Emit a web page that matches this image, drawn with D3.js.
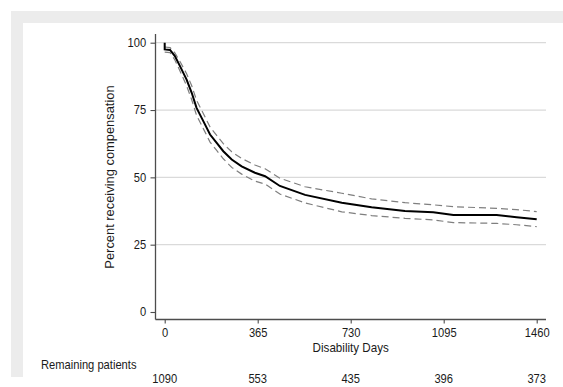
<!DOCTYPE html>
<html>
<head>
<meta charset="utf-8">
<script src="https://cdn.jsdelivr.net/npm/d3@7"></script>
<style>
    body { margin: 0; background: #fff; }
    svg text { font-family: "Liberation Sans", Arial, sans-serif; fill: #1a1a1a; }
</style>
</head>
<body>
<div id="graphic"></div>
<script>
// Kaplan-Meier curve
var days  = [0, 0, 21, 40, 60, 86, 106, 125, 152, 178, 204, 230, 263, 302, 354, 394, 452, 551, 695, 812, 943, 1054, 1133, 1303, 1381, 1460];
var surv  = [100, 97.5, 97.3, 95, 91.3, 86.3, 81.4, 75.8, 70.8, 65.9, 62.8, 59.7, 56.6, 54.1, 51.7, 50.4, 46.8, 43.5, 40.6, 38.9, 37.5, 37.0, 36.0, 36.0, 35.2, 34.4];
var upper = [98.4, 98.4, 98.2, 96.2, 93.0, 88.5, 84.0, 78.6, 73.6, 68.7, 65.6, 62.5, 59.5, 57.0, 54.6, 53.2, 49.7, 46.5, 44.1, 42.0, 40.6, 39.8, 39.1, 38.5, 38.0, 37.3];
var lower = [96.5, 96.5, 96.3, 93.6, 89.5, 84.0, 78.8, 73.0, 68.0, 63.1, 60.0, 56.9, 53.7, 51.2, 48.6, 47.5, 43.8, 40.5, 37.2, 35.8, 34.8, 34.2, 33.2, 32.9, 32.4, 31.7];

var xTicks = [0, 365, 730, 1095, 1460];
var yTicks = [0, 25, 50, 75, 100];
var remaining = [1090, 553, 435, 396, 373];

var W = 563, H = 387;
var squish = 'scale(0.93,1)'; // text in the picture is a bit narrow
var svg = d3.select('#graphic')
    .append('svg')
    .attr('width', W)
    .attr('height', H);

// background frame
svg.append('rect').attr('x', 11).attr('y', 11).attr('width', W - 11).attr('height', 366).attr('fill', '#ececec');
svg.append('rect').attr('x', 23).attr('y', 23).attr('width', W - 23).attr('height', H - 23).attr('fill', '#fff');

var xScale = d3.scaleLinear().domain([0, 1460]).range([164.7, 536.7]);
var yScale = d3.scaleLinear().domain([0, 100]).range([312, 42.7]);
var axisX0 = 155.5, axisX1 = 546, axisY = 319.5, axisTop = 34;

// gridlines
svg.append('g')
    .selectAll('line')
    .data(yTicks.filter(function (d) { return d > 0; }))
    .enter()
    .append('line')
    .attr('x1', axisX0).attr('x2', axisX1)
    .attr('y1', function (d) { return yScale(d); })
    .attr('y2', function (d) { return yScale(d); })
    .attr('stroke', '#dadada')
    .attr('stroke-width', 1.2);

// axes
var yAxis = d3.axisLeft(yScale).tickValues(yTicks).tickSize(5).tickPadding(5).tickFormat(d3.format('d'));
var gy = svg.append('g')
    .attr('transform', 'translate(' + axisX0 + ',0)')
    .call(yAxis);
gy.select('.domain').remove();
gy.append('line').attr('x1', 0).attr('x2', 0).attr('y1', axisTop).attr('y2', axisY)
    .attr('stroke', '#4d4d4d').attr('stroke-width', 1.3);

var xAxis = d3.axisBottom(xScale).tickValues(xTicks).tickSize(4).tickPadding(5).tickFormat(d3.format('d'));
var gx = svg.append('g')
    .attr('transform', 'translate(0,' + axisY + ')')
    .call(xAxis);
gx.select('.domain').remove();
gx.append('line').attr('x1', axisX0).attr('x2', axisX1).attr('y1', 0).attr('y2', 0)
    .attr('stroke', '#4d4d4d').attr('stroke-width', 1.3);

svg.selectAll('.tick line').attr('stroke', '#4d4d4d').attr('stroke-width', 1.1);
svg.selectAll('.tick text')
    .attr('transform', squish)
    .style('font-size', '12px').style('fill', '#1a1a1a')
    .style('font-family', '"Liberation Sans", Arial, sans-serif');

// axis titles
svg.append('text')
    .attr('transform', 'translate(114,177) rotate(-90) scale(1,0.93)')
    .attr('text-anchor', 'middle')
    .style('font-size', '12.9px')
    .text('Percent receiving compensation');

svg.append('text')
    .attr('transform', 'translate(' + xScale(730) + ',352) ' + squish)
    .attr('text-anchor', 'middle')
    .style('font-size', '12.5px')
    .text('Disability Days');

// number at risk
svg.append('text')
    .attr('transform', 'translate(41,369) ' + squish)
    .style('font-size', '12px')
    .text('Remaining patients');

svg.append('g')
    .selectAll('text')
    .data(remaining)
    .enter()
    .append('text')
    .attr('transform', function (d, i) { return 'translate(' + xScale(xTicks[i]) + ',383) ' + squish; })
    .attr('text-anchor', 'middle')
    .style('font-size', '12px')
    .text(function (d) { return d; });

// curves
function lineFor(vals) {
    return d3.line()
        .x(function (d, i) { return xScale(days[i]); })
        .y(function (d) { return yScale(d); })(vals);
}

[upper, lower].forEach(function (ci) {
    svg.append('path')
        .attr('d', lineFor(ci))
        .attr('fill', 'none')
        .attr('stroke', '#7f7f7f')
        .attr('stroke-width', 1.2)
        .attr('stroke-dasharray', '7,4');
});

svg.append('path')
    .attr('d', lineFor(surv))
    .attr('fill', 'none')
    .attr('stroke', '#000')
    .attr('stroke-width', 2);
</script>
</body>
</html>
